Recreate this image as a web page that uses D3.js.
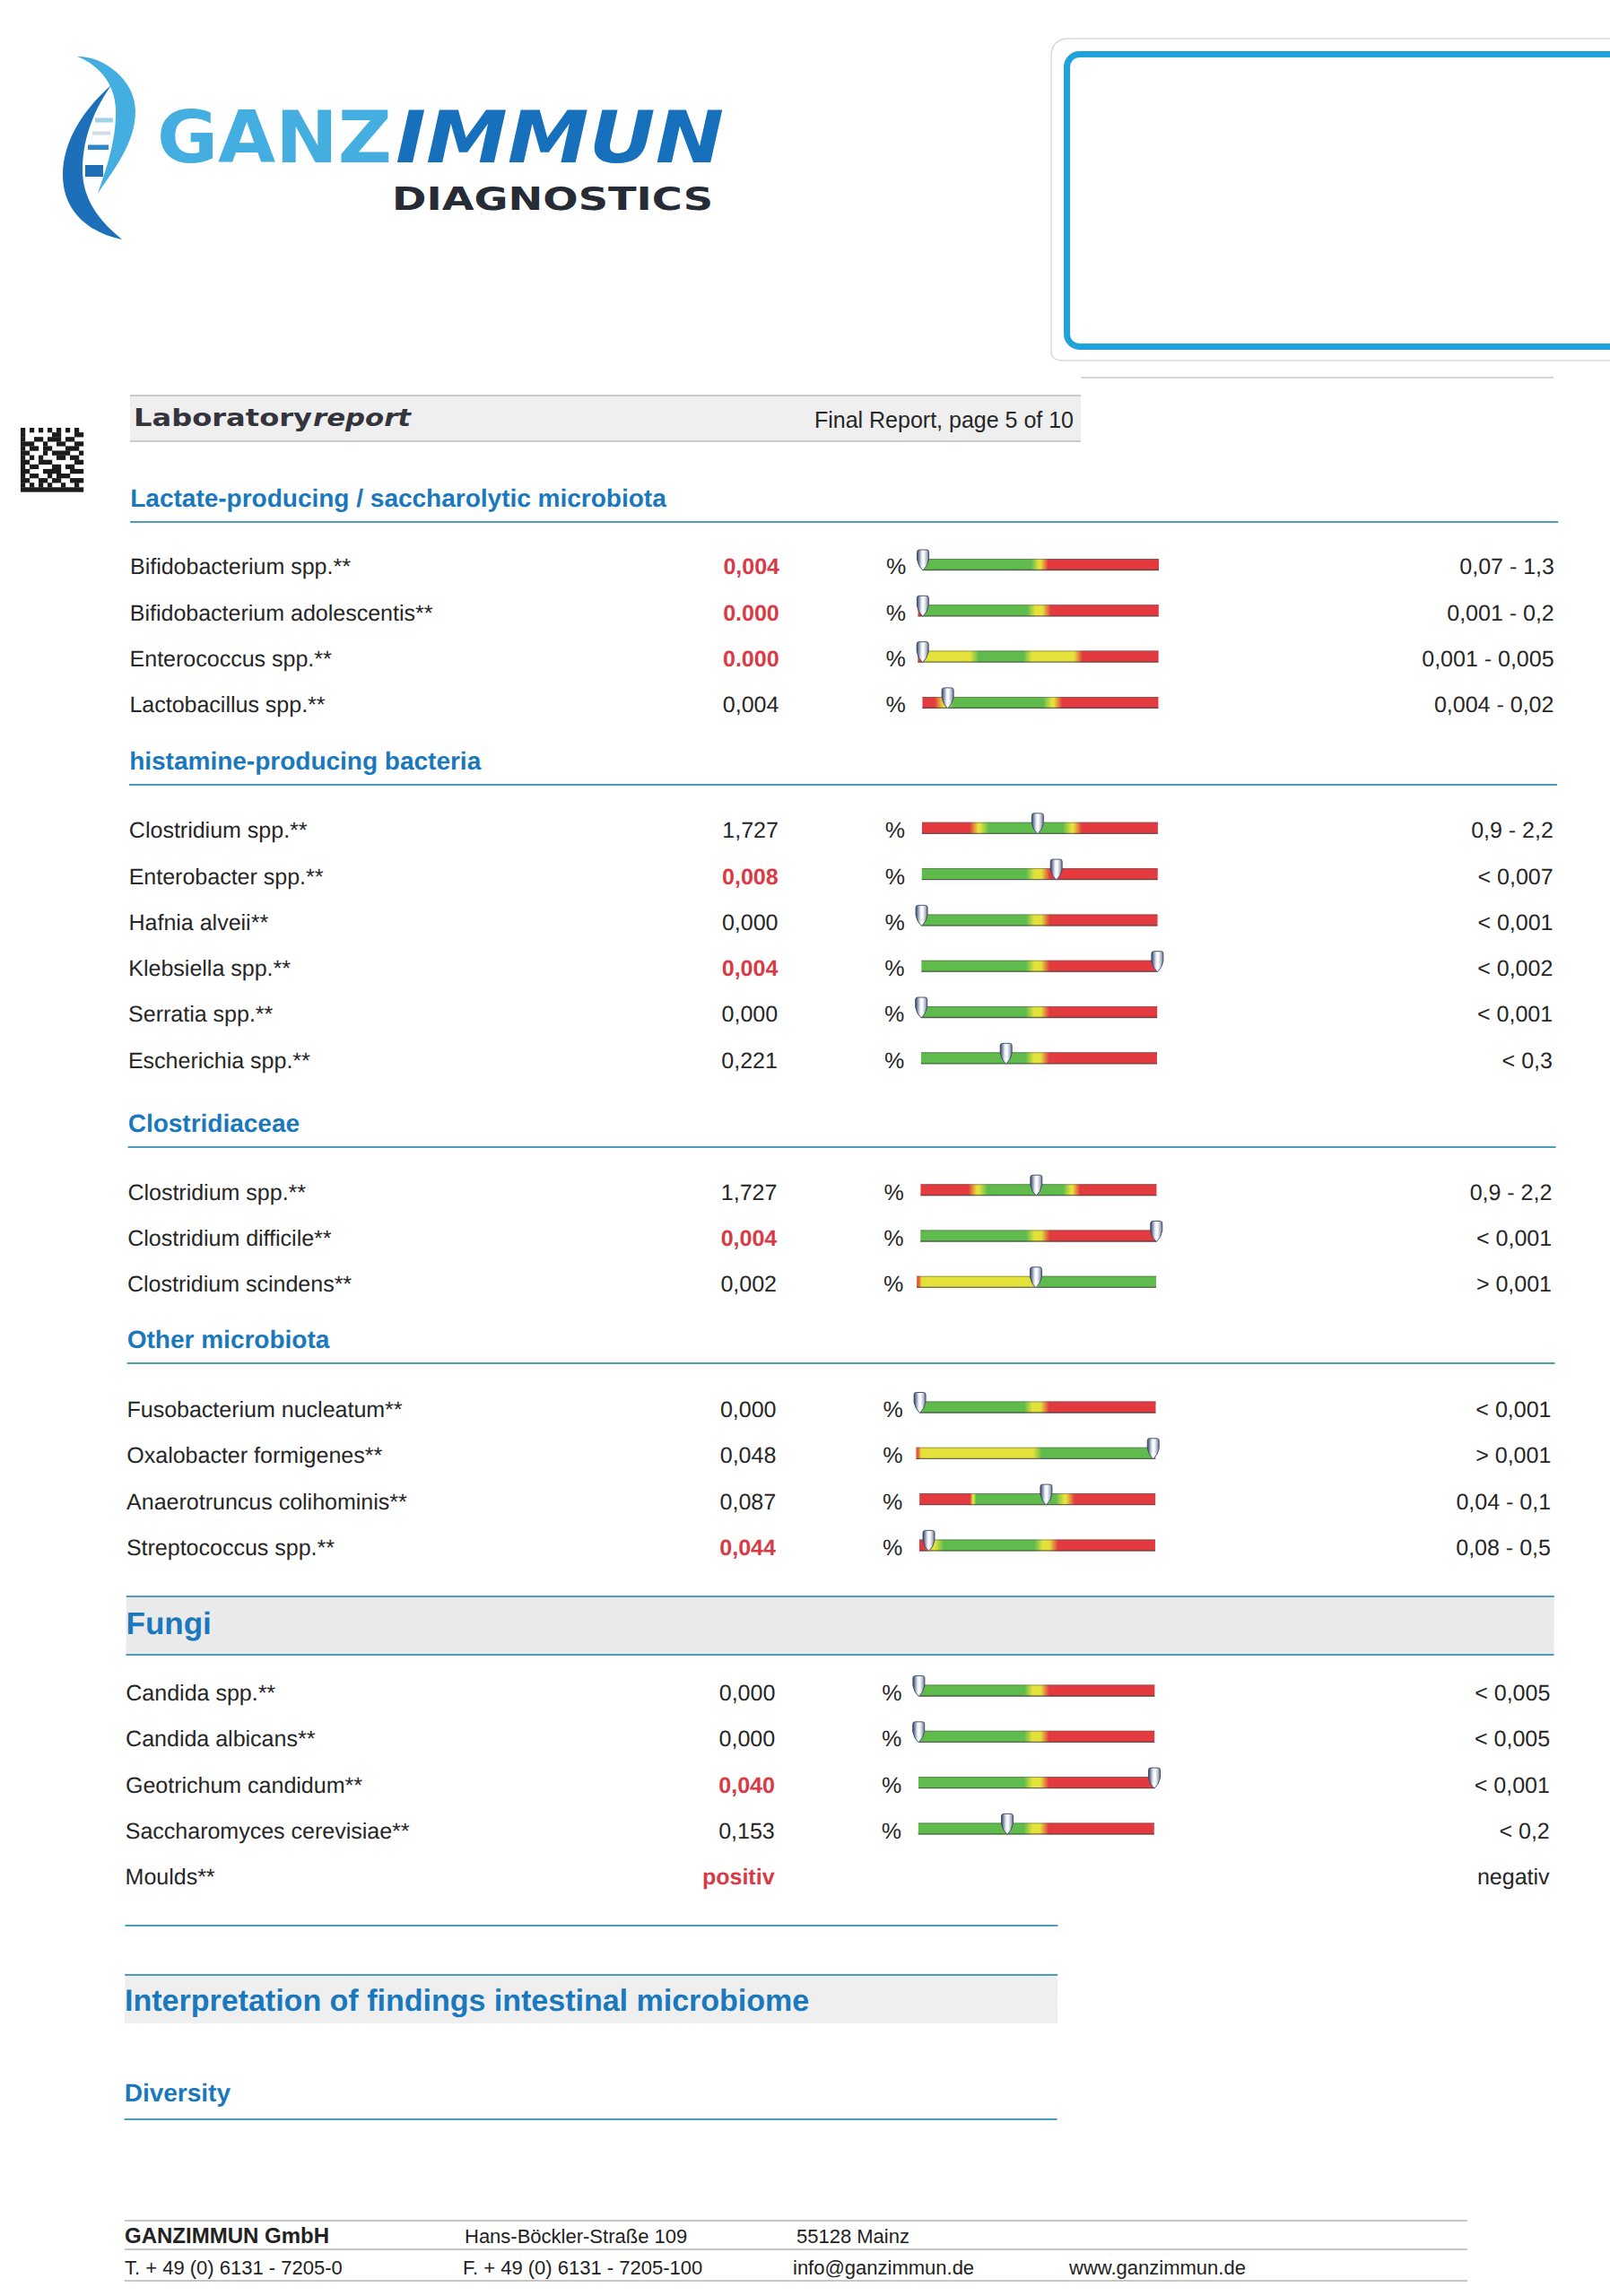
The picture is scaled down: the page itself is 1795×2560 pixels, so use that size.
<!DOCTYPE html>
<html><head><meta charset="utf-8">
<script src="https://cdn.jsdelivr.net/npm/d3@7"></script>
<style>html,body{margin:0;padding:0;background:#fff;}svg{display:block;}</style>
</head><body><div id="chart"></div>
<script>
// ---------------- DATA ----------------
const sectionTitles = ["Lactate-producing / saccharolytic microbiota", "histamine-producing bacteria", "Clostridiaceae", "Other microbiota", "Fungi"];
const rowSection = [0,0,0,0, 1,1,1,1,1,1, 2,2,2, 3,3,3,3, 4,4,4,4,4];
const rowLabels = ["Bifidobacterium spp.**","Bifidobacterium adolescentis**","Enterococcus spp.**","Lactobacillus spp.**",
  "Clostridium spp.**","Enterobacter spp.**","Hafnia alveii**","Klebsiella spp.**","Serratia spp.**","Escherichia spp.**",
  "Clostridium spp.**","Clostridium difficile**","Clostridium scindens**",
  "Fusobacterium nucleatum**","Oxalobacter formigenes**","Anaerotruncus colihominis**","Streptococcus spp.**",
  "Candida spp.**","Candida albicans**","Geotrichum candidum**","Saccharomyces cerevisiae**","Moulds**"];
const rowValues = ["0,004","0.000","0.000","0,004", "1,727","0,008","0,000","0,004","0,000","0,221",
  "1,727","0,004","0,002", "0,000","0,048","0,087","0,044", "0,000","0,000","0,040","0,153","positiv"];
const rowFlagged = [1,1,1,0, 0,1,0,1,0,0, 0,1,0, 0,0,0,1, 0,0,1,0,1];
const rowUnits = ["%","%","%","%","%","%","%","%","%","%","%","%","%","%","%","%","%","%","%","%","%",""];
const rowRanges = ["0,07 - 1,3","0,001 - 0,2","0,001 - 0,005","0,004 - 0,02",
  "0,9 - 2,2","< 0,007","< 0,001","< 0,002","< 0,001","< 0,3",
  "0,9 - 2,2","< 0,001","> 0,001",
  "< 0,001","> 0,001","0,04 - 0,1","0,08 - 0,5",
  "< 0,005","< 0,005","< 0,001","< 0,2","negativ"];
// marker position on the bar (0 = left end, 1 = right end)
const markerPos = [0,0,0,0.107, 0.49,0.57,0,1,0,0.36, 0.49,1,0.49, 0,0.99,0.537,0.04, 0,0,1,0.377,null];
// colour zones of each bar: start of bar, zone codes and zone end positions
const zoneStart = [0,-0.02,-0.02,0, 0,0,0,0,0,0, 0,0,-0.015, 0,-0.015,0,0, 0,0,0,0,null];
const zoneCodes = ["GYR","RGYR","RYGYR","RYGYR", "RYGYR","GYR","GYR","GYR","GYR","GYR",
  "RYGYR","GYR","OYG", "GYR","OYG","RYGYR","RYGYR", "GYR","GYR","GYR","GYR",null];
const zoneEnds = [[0.475,0.515,1],[0,0.46,0.525,1],[0,0.22,0.445,0.66,1],[0.07,0.115,0.53,0.575,1],
  [0.22,0.265,0.615,0.66,1],[0.46,0.525,1],[0.46,0.525,1],[0.46,0.525,1],[0.46,0.525,1],[0.46,0.525,1],
  [0.22,0.265,0.62,0.66,1],[0.465,0.53,1],[0,0.49,1],
  [0.46,0.53,1],[0,0.5,1],[0.22,0.235,0.595,0.64,1],[0.04,0.085,0.505,0.57,1],
  [0.465,0.535,1],[0.465,0.535,1],[0.465,0.535,1],[0.465,0.535,1],null];
const footerLine1 = ["GANZIMMUN GmbH","Hans-Böckler-Straße 109","55128 Mainz"];
const footerLine2 = ["T. + 49 (0) 6131 - 7205-0","F. + 49 (0) 6131 - 7205-100","info@ganzimmun.de","www.ganzimmun.de"];

// ---------------- LAYOUT / STYLE ----------------
const W = 1795, H = 2560;
const FONT = "'Liberation Sans', Arial, Helvetica, sans-serif";
const BLUE = "#1a78bd", LINE = "#4a9dbb", RED = "#d83a46", TXT = "#262626";
const zoneColor = {G:"#5fbb4c", Y:"#e4e23a", R:"#e23a3e", O:"#ea5a34"};

const svg = d3.select("#chart").append("svg").attr("width", W).attr("height", H).attr("viewBox", `0 0 ${W} ${H}`);
svg.append("rect").attr("width", W).attr("height", H).attr("fill", "#fff");
const defs = svg.append("defs");

// ---------- logo ----------
const logo = svg.append("g");
logo.append("path").attr("d","M86,63 C114,62 151,88 151,124 C151,160 126,190 109,216 C119,186 130,156 129,121 C128,95 112,73 86,63 Z").attr("fill","#45aee0");
logo.append("path").attr("d","M124,95 C95,120 70,156 70,195 C70,236 100,260 136,267 C110,246 92,221 92,190 C92,160 101,128 124,95 Z").attr("fill","#1c6fb8");
[[106,131.5,20,5,"#9fd4e8"],[103,146.5,20,4,"#cfdce4"],[98,161.5,23,5.5,"#2d88c9"],[95,184,20,13,"#1c6fb8"]].forEach(r=>{
  logo.append("rect").attr("x",r[0]).attr("y",r[1]).attr("width",r[2]).attr("height",r[3]).attr("fill",r[4]);
});
logo.append("text").attr("x",175).attr("y",181).attr("font-family","'DejaVu Sans', sans-serif").attr("font-weight","bold")
  .attr("font-size",80).attr("fill","#45aee0").attr("textLength",262).attr("lengthAdjust","spacingAndGlyphs").text("GANZ");
logo.append("text").attr("x",441).attr("y",181).attr("font-family","'DejaVu Sans', sans-serif").attr("font-weight","bold").attr("font-style","italic")
  .attr("font-size",80).attr("fill","#1670bc").attr("textLength",366).attr("lengthAdjust","spacingAndGlyphs").text("IMMUN");
logo.append("text").attr("x",437).attr("y",234).attr("font-family","'DejaVu Sans', sans-serif").attr("font-weight","bold")
  .attr("font-size",36).attr("fill","#262b35").attr("textLength",358).attr("lengthAdjust","spacingAndGlyphs").text("DIAGNOSTICS");

// ---------- address box ----------
svg.append("path").attr("d","M1795,43 L1192,43 Q1172,43 1172,63 L1172,392 Q1172,402 1185,402 L1795,402")
  .attr("fill","none").attr("stroke","#d9d9d9").attr("stroke-width",1.5);
svg.append("rect").attr("x",1189.5).attr("y",60.5).attr("width",700).attr("height",326).attr("rx",14)
  .attr("fill","none").attr("stroke","#20a2db").attr("stroke-width",7);
svg.append("line").attr("x1",1205).attr("x2",1732).attr("y1",421).attr("y2",421).attr("stroke","#c9c9c9").attr("stroke-width",1.5);

// ---------- data matrix ----------
const dm = ["10101010101010","10000001100011","10011011101100","11100100110011","10110110001110","11000101111001",
  "10101000110110","11001110000011","10110001101100","11000111100111","10110010111000","11001101100111","10101010010010","11111111111111"];
dm.forEach((row,r)=>row.split("").forEach((c,k)=>{ if(c==="1") svg.append("rect").attr("x",23+k*5).attr("y",477+r*5.1).attr("width",5.2).attr("height",5.3).attr("fill","#1b1b1b"); }));

// ---------- lab report band ----------
svg.append("rect").attr("x",145).attr("y",441).attr("width",1060).attr("height",51).attr("fill","#efefef");
[441,492].forEach(y=>svg.append("line").attr("x1",145).attr("x2",1205).attr("y1",y).attr("y2",y).attr("stroke","#bdbdbd").attr("stroke-width",1.5));
svg.append("text").attr("x",149).attr("y",475).attr("font-family","'DejaVu Sans', sans-serif").attr("font-weight","bold")
  .attr("font-size",26).attr("fill","#34343c").attr("textLength",199).attr("lengthAdjust","spacingAndGlyphs").text("Laboratory");
svg.append("text").attr("x",349).attr("y",475).attr("font-family","'DejaVu Sans', sans-serif").attr("font-weight","bold").attr("font-style","italic")
  .attr("font-size",26).attr("fill","#34343c").attr("textLength",109).attr("lengthAdjust","spacingAndGlyphs").text("report");
svg.append("text").attr("x",1197).attr("y",477).attr("text-anchor","end").attr("font-family",FONT).attr("font-size",25).attr("fill",TXT).text("Final Report, page 5 of 10");

// ---------- main content (slight scan skew) ----------
const g = svg.append("g").attr("transform","translate(2.33,0) skewX(-0.212)");
const LX = 145, RX = 1737, VALX = 869, PCTX = 988, RANGEX = 1733;
const sectionLineY = [582, 875, 1279, 1520];
const firstRowY = [629.5, 923.3, 1326.7, 1569, 1885];
const ROWSTEP = 51.3;
const barX = d3.scaleLinear().domain([0,1]).range([1029, 1292]);
const BAR_H = 13;

sectionLineY.forEach((y,i)=>{
  g.append("text").attr("x",LX).attr("y",y-17).attr("font-family",FONT).attr("font-weight","bold").attr("font-size",28)
    .attr("fill",BLUE).text(sectionTitles[i]);
  g.append("line").attr("x1",LX).attr("x2",RX).attr("y1",y).attr("y2",y).attr("stroke",LINE).attr("stroke-width",2);
});
// Fungi band
g.append("rect").attr("x",LX).attr("y",1780).attr("width",RX-LX).attr("height",65).attr("fill","#eaeaea");
[1780,1845].forEach(y=>g.append("line").attr("x1",LX).attr("x2",RX).attr("y1",y).attr("y2",y).attr("stroke",LINE).attr("stroke-width",2));
g.append("text").attr("x",LX).attr("y",1822).attr("font-family",FONT).attr("font-weight","bold").attr("font-size",35).attr("fill",BLUE).text(sectionTitles[4]);

// marker gradient
const mg = defs.append("linearGradient").attr("id","mgrad").attr("x1","0").attr("x2","1").attr("y1","0").attr("y2","0");
[[0,"#34405e"],[0.18,"#8390aa"],[0.4,"#eef1f6"],[0.58,"#ffffff"],[0.82,"#b3bac8"],[1,"#5f6984"]].forEach(s=>mg.append("stop").attr("offset",s[0]).attr("stop-color",s[1]));

// row index within section
const rowIdx = rowSection.map((s,i)=>rowSection.slice(0,i).filter(t=>t===s).length);

rowLabels.forEach((lab,i)=>{
  const cy = firstRowY[rowSection[i]] + rowIdx[i]*ROWSTEP;
  const by = cy + 11;
  g.append("text").attr("x",LX).attr("y",by).attr("font-family",FONT).attr("font-size",25).attr("fill",TXT).text(lab);
  g.append("text").attr("x",VALX).attr("y",by).attr("text-anchor","end").attr("font-family",FONT).attr("font-size",25)
    .attr("font-weight", rowFlagged[i] ? "bold" : "normal").attr("fill", rowFlagged[i] ? RED : TXT).text(rowValues[i]);
  if (rowUnits[i]) g.append("text").attr("x",PCTX).attr("y",by).attr("font-family",FONT).attr("font-size",25).attr("fill",TXT).text(rowUnits[i]);
  g.append("text").attr("x",RANGEX).attr("y",by).attr("text-anchor","end").attr("font-family",FONT).attr("font-size",25).attr("fill",TXT).text(rowRanges[i]);

  if (zoneCodes[i]) {
    const s0 = zoneStart[i], codes = zoneCodes[i].split(""), ends = zoneEnds[i];
    const off = f => Math.max(0, Math.min(1, (f - s0)/(1 - s0)));
    const gid = "bar"+i;
    const lg = defs.append("linearGradient").attr("id",gid).attr("x1","0").attr("x2","1").attr("y1","0").attr("y2","0");
    const stops = [[0, codes[0]]];
    let prev = s0;
    codes.forEach((c,k)=>{
      if (k < codes.length-1) {
        const e = ends[k];
        const wA = e - prev, wB = ends[k+1] - e;
        const h = Math.min(0.018, wA/2.5, wB/2.5);
        stops.push([off(e-h), c]);
        stops.push([off(e+h), codes[k+1]]);
        prev = e;
      }
    });
    stops.push([1, codes[codes.length-1]]);
    let last = 0;
    stops.forEach(s=>{ last = Math.max(last, s[0]); lg.append("stop").attr("offset",last).attr("stop-color",zoneColor[s[1]]); });
    const x0 = barX(s0), x1 = barX(1), top = cy - BAR_H/2;
    g.append("rect").attr("x",x0).attr("y",top).attr("width",x1-x0).attr("height",BAR_H).attr("fill",`url(#${gid})`);
    g.append("line").attr("x1",x0).attr("x2",x1).attr("y1",top+0.5).attr("y2",top+0.5).attr("stroke","#5c5c5c").attr("stroke-opacity",0.55).attr("stroke-width",1);
    g.append("line").attr("x1",x0).attr("x2",x1).attr("y1",top+BAR_H-0.5).attr("y2",top+BAR_H-0.5).attr("stroke","#444").attr("stroke-opacity",0.75).attr("stroke-width",1.3);
    // marker
    const mx = barX(markerPos[i]), yb = top + BAR_H;
    const d = `M${mx-6.5},${yb-20.5} Q${mx-6.5},${yb-23} ${mx-4},${yb-23} L${mx+4},${yb-23} Q${mx+6.5},${yb-23} ${mx+6.5},${yb-20.5} L${mx+6.5},${yb-12} Q${mx+5},${yb-4} ${mx},${yb} Q${mx-5},${yb-4} ${mx-6.5},${yb-12} Z`;
    g.append("path").attr("d",d).attr("fill","url(#mgrad)").attr("stroke","#3a4562").attr("stroke-width",0.9);
  }
});

// interpretation section
g.append("line").attr("x1",LX).attr("x2",1185).attr("y1",2147).attr("y2",2147).attr("stroke",LINE).attr("stroke-width",2);
g.append("rect").attr("x",LX).attr("y",2202).attr("width",1040).attr("height",54).attr("fill","#efefef");
g.append("line").attr("x1",LX).attr("x2",1185).attr("y1",2202).attr("y2",2202).attr("stroke",LINE).attr("stroke-width",2);
g.append("text").attr("x",LX).attr("y",2242).attr("font-family",FONT).attr("font-weight","bold").attr("font-size",34).attr("fill",BLUE).text("Interpretation of findings intestinal microbiome");
g.append("text").attr("x",LX).attr("y",2343).attr("font-family",FONT).attr("font-weight","bold").attr("font-size",28).attr("fill",BLUE).text("Diversity");
g.append("line").attr("x1",LX).attr("x2",1185).attr("y1",2363).attr("y2",2363).attr("stroke",LINE).attr("stroke-width",2);

// ---------- footer ----------
[2476,2508,2543].forEach(y=>svg.append("line").attr("x1",139).attr("x2",1636).attr("y1",y).attr("y2",y).attr("stroke","#b5b5b5").attr("stroke-width",1.5));
const f1x = [139,518,888], f2x = [139,516,884,1192];
footerLine1.forEach((t,k)=>svg.append("text").attr("x",f1x[k]).attr("y",2501).attr("font-family",FONT).attr("font-size",k===0?24:22)
  .attr("font-weight",k===0?"bold":"normal").attr("fill","#222").text(t));
footerLine2.forEach((t,k)=>svg.append("text").attr("x",f2x[k]).attr("y",2536).attr("font-family",FONT).attr("font-size",22).attr("fill","#222").text(t));
</script>
</body></html>
